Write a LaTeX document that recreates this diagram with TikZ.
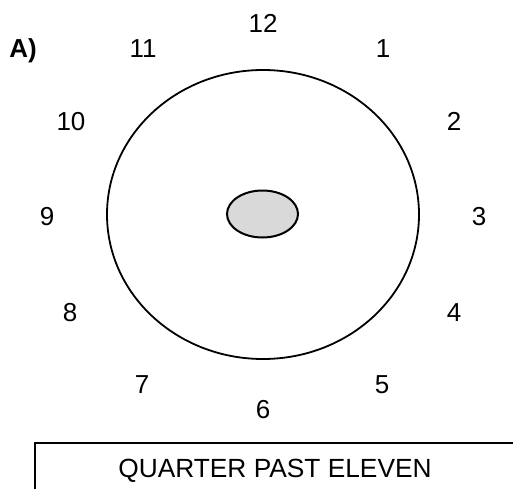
\documentclass[tikz,border=0pt]{standalone}
\usepackage{fontspec}
\setmainfont{Liberation Sans}
\usepackage{tikz}
\usetikzlibrary{shapes.geometric}
\tikzstyle{hour} = [inner sep=0pt, text height=18.8pt, text depth=0pt, font=\fontsize{26}{30}\selectfont]
\tikzstyle{face} = [ellipse, draw=black, line width=1.8pt, inner sep=0pt, minimum width=312pt, minimum height=289pt]
\tikzstyle{hub} = [ellipse, draw=black, line width=2pt, fill=black!15, inner sep=0pt, minimum width=71pt, minimum height=47pt]
\tikzstyle{answer} = [inner sep=0pt, text height=18.8pt, text depth=0pt, font=\fontsize{26.3}{30}\selectfont]

\begin{document}
\begin{tikzpicture}[x=1pt, y=-1pt]
  \useasboundingbox (0,0) rectangle (513,489);
  \node (tag)[hour, font=\fontsize{26}{30}\selectfont\bfseries] at (23,48) {A)};
  \node (clock)[face] at (263,214.5) {};
  \node (centre)[hub] at (262.5,214) {};
  \node (h12)[hour] at (263,23.5) {12};
  \node (h1)[hour] at (383,48) {1};
  \node (h2)[hour] at (454,121) {2};
  \node (h3)[hour] at (479,216) {3};
  \node (h4)[hour] at (454,312) {4};
  \node (h5)[hour] at (382,384) {5};
  \node (h6)[hour] at (263,409) {6};
  \node (h7)[hour] at (142,384) {7};
  \node (h8)[hour] at (70,312) {8};
  \node (h9)[hour] at (47,216.5) {9};
  \node (h10)[hour] at (71,121) {10};
  \node (h11)[hour] at (143,48) {11};
  \draw [line width=1.8pt] (35,489) -- (35,443) -- (513,443);
  \node (time)[answer] at (275,468.5) {QUARTER PAST ELEVEN};
\end{tikzpicture}
\end{document}
